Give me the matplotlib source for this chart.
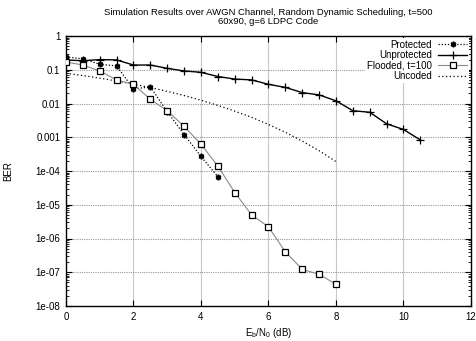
import numpy as np
import matplotlib
matplotlib.use("Agg")
import matplotlib.pyplot as plt
from matplotlib.ticker import FixedLocator, FuncFormatter, LogLocator, NullFormatter

plt.rcParams["font.family"] = ["Liberation Sans", "DejaVu Sans"]
plt.rcParams["mathtext.fontset"] = "custom"
plt.rcParams["mathtext.rm"] = "Liberation Sans"
plt.rcParams["mathtext.it"] = "Liberation Sans"

# Eb/N0 sample points (dB)
ebno_protected = [0, 0.5, 1, 1.5, 2, 2.5, 3, 3.5, 4, 4.5]
ber_protected = [0.24, 0.21, 0.145, 0.13, 0.027, 0.031, 0.0057, 0.0012, 2.7e-4, 6.8e-5]

ebno_unprotected = [0, 0.5, 1, 1.5, 2, 2.5, 3, 3.5, 4, 4.5, 5, 5.5, 6, 6.5,
                    7, 7.5, 8, 8.5, 9, 9.5, 10, 10.5]
ber_unprotected = [0.195, 0.185, 0.20, 0.195, 0.138, 0.138, 0.11, 0.092, 0.084,
                   0.063, 0.053, 0.050, 0.037, 0.030, 0.021, 0.018, 0.012,
                   0.0061, 0.0055, 0.0025, 0.0017, 8.3e-4]

ebno_flooded = [0, 0.5, 1, 1.5, 2, 2.5, 3, 3.5, 4, 4.5, 5, 5.5, 6, 6.5, 7, 7.5, 8]
ber_flooded = [0.17, 0.138, 0.092, 0.050, 0.037, 0.0133, 0.0061, 0.0021, 6.2e-4,
               1.4e-4, 2.3e-5, 5.0e-6, 2.2e-6, 4.0e-7, 1.22e-7, 8.7e-8, 4.4e-8]

ebno_uncoded = [0, 0.5, 1, 1.5, 2, 2.5, 3, 3.5, 4, 4.5, 5, 5.5, 6, 6.5, 7, 7.5, 8]
ber_uncoded = [0.0786, 0.0671, 0.0563, 0.0464, 0.0375, 0.0296, 0.0229, 0.0172,
               0.0125, 0.00876, 0.00595, 0.00389, 0.00239, 0.00140, 7.7e-4,
               4.0e-4, 1.9e-4]

x_ticks = [0, 2, 4, 6, 8, 10, 12]
y_ticks = [1e-8, 1e-7, 1e-6, 1e-5, 1e-4, 1e-3, 1e-2, 1e-1, 1]
y_tick_labels = ["1e-08", "1e-07", "1e-06", "1e-05", "1e-04", "0.001", "0.01", "0.1", "1"]

fig = plt.figure(figsize=(4.77, 3.41), dpi=100)
ax = fig.add_axes([66 / 477, 1 - 306 / 341, (471 - 66) / 477, (306 - 36) / 341])

ax.set_yscale("log")
ax.set_xlim(0, 12)
ax.set_ylim(1e-8, 1)

# grid: solid light verticals, dotted horizontals
for xv in x_ticks[1:-1]:
    ax.axvline(xv, color="#c8c8c8", lw=0.8, zorder=0)
for yv in y_ticks[1:-1]:
    ax.axhline(yv, color="#999999", lw=0.8, ls=(0, (1, 1)), zorder=0)

ax.plot(ebno_protected, ber_protected, color="black", lw=0.9, ls=(0, (1, 1.5)),
        marker=(6, 2, 0), ms=4, mew=1.2, label="Protected", zorder=3)
ax.plot(ebno_unprotected, ber_unprotected, color="black", lw=1.0, ls="-",
        marker="+", ms=5.5, mew=0.9, label="Unprotected", zorder=3)
ax.plot(ebno_flooded, ber_flooded, color="#8a8a8a", lw=0.8, ls="-",
        marker="s", ms=3.8, mfc="white", mec="black", mew=0.9,
        label="Flooded, t=100", zorder=3)
ax.plot(ebno_uncoded, ber_uncoded, color="black", lw=0.9, ls=(0, (1, 2)),
        label="Uncoded", zorder=2)

ax.xaxis.set_major_locator(FixedLocator(x_ticks))
ax.yaxis.set_major_locator(FixedLocator(y_ticks))
ax.yaxis.set_major_formatter(FuncFormatter(
    lambda v, p: y_tick_labels[int(round(np.log10(v))) + 8]))
ax.yaxis.set_minor_locator(LogLocator(base=10, subs=np.arange(2, 10), numticks=20))
ax.yaxis.set_minor_formatter(NullFormatter())

ax.tick_params(axis="both", which="major", direction="in", length=4, width=0.8,
               top=True, right=True, labelsize=7, pad=4)
ax.tick_params(axis="y", which="minor", direction="in", length=2, width=0.6,
               right=True)
for sp in ax.spines.values():
    sp.set_linewidth(1.0)

ax.set_xlabel(r"E$_\mathregular{b}$/N$_\mathregular{0}$ (dB)", fontsize=7, labelpad=2)
ax.xaxis.set_label_coords(0.5, -0.075)
ax.set_ylabel("BER", fontsize=7, labelpad=10)
ax.yaxis.set_label_coords(-0.13, 0.5)

fig.text(0.5631, 1 - 12.7 / 341, "Simulation Results over AWGN Channel, Random Dynamic Scheduling, t=500",
         ha="center", va="center", fontsize=6.8)
fig.text(0.5631, 1 - 21.5 / 341, "60x90, g=6 LDPC Code", ha="center", va="center", fontsize=6.8)

leg = ax.legend(loc="upper right", fontsize=7, markerfirst=False, frameon=True,
                framealpha=1.0, edgecolor="none", facecolor="white",
                handlelength=3.0, handletextpad=0.6, labelspacing=0.05,
                borderpad=0.2, borderaxespad=0.2, fancybox=False)
leg.set_zorder(4)

fig.savefig("out.png", dpi=100)
